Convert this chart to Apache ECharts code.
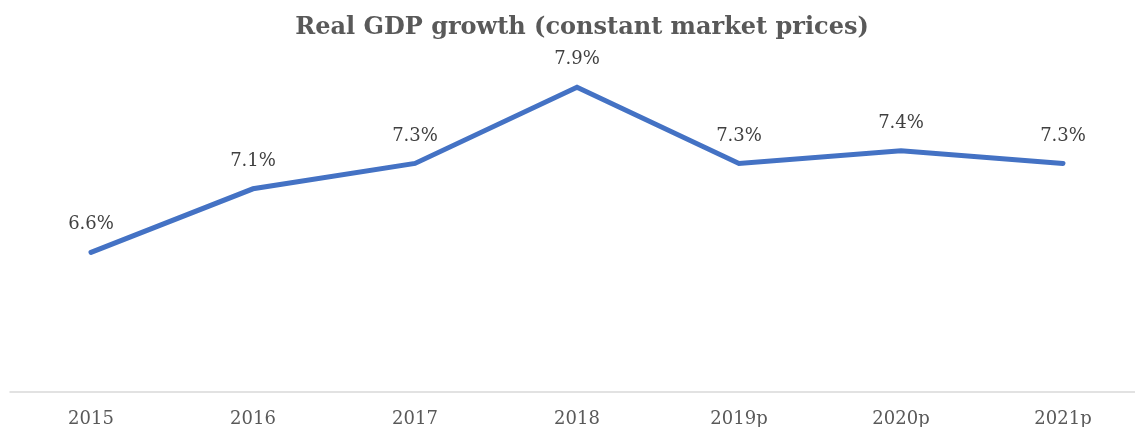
<!DOCTYPE html>
<html>
<head>
<meta charset="utf-8">
<script src="https://cdn.jsdelivr.net/npm/echarts@6/dist/echarts.min.js"></script>
<style>
  html, body { margin: 0; padding: 0; background: #fff; }
  #chart { width: 1135px; height: 427px; }
</style>
</head>
<body>
<div id="chart"></div>
<script>
// Real GDP growth, % (p = projection)
const years = ['2015', '2016', '2017', '2018', '2019p', '2020p', '2021p'];
const growth = [6.6, 7.1, 7.3, 7.9, 7.3, 7.4, 7.3];

const serif = '"DejaVu Serif", "Liberation Serif", serif';

const chart = echarts.init(document.getElementById('chart'));
chart.setOption({
  animation: false,
  title: {
    text: 'Real GDP growth (constant market prices)',
    left: 577,
    textAlign: 'center',
    top: 11,
    textStyle: { fontFamily: serif, fontSize: 24, fontWeight: 'bold', color: '#595959' }
  },
  grid: { left: 10, width: 1134, top: 11, bottom: 35, outerBoundsMode: 'none', containLabel: false },
  xAxis: {
    type: 'category',
    data: years,
    boundaryGap: true,
    axisLine: { lineStyle: { color: '#d9d9d9', width: 1.5 } },
    axisTick: { show: false },
    axisLabel: { fontFamily: serif, fontSize: 18, color: '#595959', margin: 18 }
  },
  yAxis: {
    type: 'value',
    min: 5.5,
    max: 8.5,
    show: false,
    splitLine: { show: false }
  },
  series: [{
    type: 'line',
    data: growth,
    symbol: 'circle',
    symbolSize: 1,
    showSymbol: true,
    itemStyle: { color: 'rgba(68,114,196,0)' },
    lineStyle: { color: '#4472C4', width: 5, cap: 'round', join: 'miter' },
    label: {
      show: true,
      position: 'top',
      distance: 18,
      fontFamily: serif,
      fontSize: 18,
      color: '#404040',
      formatter: p => p.value.toFixed(1) + '%'
    }
  }]
});
</script>
</body>
</html>
